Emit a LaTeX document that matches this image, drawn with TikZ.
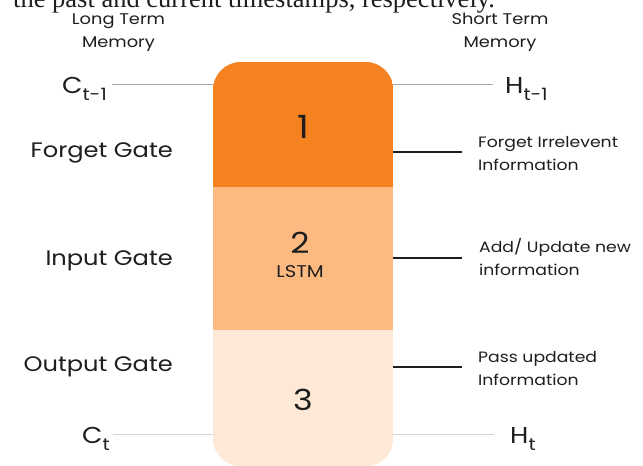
\documentclass[tikz,border=0pt]{standalone}
\usepackage{fontspec}
\setmainfont{Poppins}[FakeStretch=1.15]
\newfontfamily\capfont{Liberation Serif}
\definecolor{gateA}{HTML}{F58220}
\definecolor{gateB}{HTML}{FDBA80}
\definecolor{gateC}{HTML}{FEE9D7}
\definecolor{memline}{HTML}{A8A8A8}
\definecolor{memlinelight}{HTML}{D4D4D4}
\definecolor{txt}{HTML}{1E1E1E}
\newcommand{\fs}[1]{\fontsize{#1}{#1}\selectfont}
\newcommand{\sig}[2]{{\fs{23}#1}{\fs{17}\raisebox{-7pt}{#2}}}
\begin{document}
\begin{tikzpicture}[x=1pt,y=-1pt,
  lbl/.style={inner sep=0pt, text=txt},
  gatelbl/.style={lbl, anchor=base east, font=\fs{21}},
  notelbl/.style={lbl, anchor=base west, font=\fs{15}},
  memlbl/.style={lbl, anchor=base, font=\fs{15.5}},
  numlbl/.style={lbl, anchor=base, font=\fs{29}},
  memwire/.style={draw=memline, line width=1pt},
  memwirelight/.style={draw=memlinelight, line width=1pt},
  notewire/.style={draw=txt, line width=2pt}]
\useasboundingbox (0,0) rectangle (643,466);
\clip (0,0) rectangle (643,466);
\fill[white] (0,0) rectangle (643,466);

% caption line running off the top edge
\node[lbl, anchor=base west, font=\capfont\fs{26.5}] (cap) at (13,7.5)
  {the past and current timestamps, respectively.};

% memory headings
\node[memlbl] (ltm1) at (118.5,24) {Long Term};
\node[memlbl] (ltm2) at (118.5,47) {Memory};
\node[memlbl] (stm1) at (500,24) {Short Term};
\node[memlbl] (stm2) at (500,47) {Memory};

% LSTM cell body
\node[minimum width=180pt, minimum height=404pt, inner sep=0pt,
      anchor=north west] (blk) at (213,62) {};
\begin{scope}
  \clip[rounded corners=28pt] (blk.north west) rectangle (blk.south east);
  \fill[gateC] (213,62) rectangle (393,466);
  \fill[gateB] (213,62) rectangle (393,330);
  \fill[gateA] (213,62) rectangle (393,187);
\end{scope}

\node[numlbl, font=\fs{32}] (n1) at (303,138) {1};
\node[numlbl] (n2) at (300,253) {2};
\node[lbl, anchor=base, font=\fs{17}] (lstm) at (300,277) {LSTM};
\node[numlbl] (n3) at (303,410) {3};

% cell state and hidden state signals
\node[lbl, anchor=base west] (cprev) at (62,93) {\sig{C}{t-1}};
\node[lbl, anchor=base west] (hprev) at (505,93) {\sig{H}{t-1}};
\node[lbl, anchor=base west] (cnow) at (82,443) {\sig{C}{t}};
\node[lbl, anchor=base west] (hnow) at (510,443) {\sig{H}{t}};

\coordinate (cpe) at (112,84);
\coordinate (hpe) at (493,84);
\coordinate (cne) at (113,434);
\coordinate (hne) at (494,434);
\draw[memwire] (cpe) -- (cpe -| blk.west);
\draw[memwire] (hpe -| blk.east) -- (hpe);
\draw[memwirelight] (cne) -- (cne -| blk.west);
\draw[memwirelight] (hne -| blk.east) -- (hne);

% gate names
\node[gatelbl] (fg) at (173,157) {Forget Gate};
\node[gatelbl] (ig) at (173,265) {Input Gate};
\node[gatelbl] (og) at (173,371) {Output Gate};

% gate roles
\coordinate (fe) at (462,152);
\coordinate (ie) at (462,258);
\coordinate (oe) at (462,367);
\draw[notewire] (fe -| blk.east) -- (fe);
\draw[notewire] (ie -| blk.east) -- (ie);
\draw[notewire] (oe -| blk.east) -- (oe);

\node[notelbl] (fr1) at (478,147) {Forget Irrelevent};
\node[notelbl] (fr2) at (478,170) {Information};
\node[notelbl] (ir1) at (479,252) {Add/ Update new};
\node[notelbl] (ir2) at (479,275) {information};
\node[notelbl] (or1) at (478,362) {Pass updated};
\node[notelbl] (or2) at (478,385) {Information};
\end{tikzpicture}
\end{document}
